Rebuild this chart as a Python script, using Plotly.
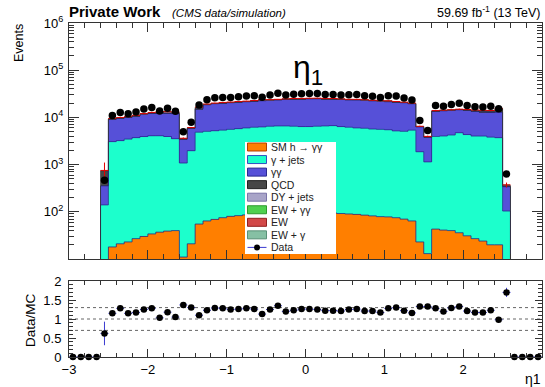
import numpy as np
import plotly.graph_objects as go

# ---------------- data (60 bins of width 0.1 from -3 to 3) ----------------
edges = np.linspace(-3, 3, 61)
centers = (edges[:-1] + edges[1:]) / 2

higgs = [0, 0, 0, 0, 0, 18, 21, 23, 27, 30, 34, 37, 39, 40, 11, 21,
         55, 64, 69, 75, 80, 83, 86, 89, 91, 93, 95, 96, 97, 98,
         98, 97, 96, 94, 92, 90, 88, 85, 82, 79, 78, 75, 70, 64,
         23, 13, 43, 41, 40, 36, 31, 27, 24, 20, 20, 0, 0, 0, 0, 0]
gjets = [0, 0, 0, 0, 140, 3050, 3200, 3450, 3700, 3900, 4050, 4050, 3900, 3500, 1070, 1950,
         4800, 5000, 5150, 5300, 5500, 5700, 5900, 6100, 6200, 6400, 6500, 6500, 6400, 6300,
         6300, 6400, 6500, 6600, 6300, 6100, 5900, 5800, 5600, 5500, 5400, 5100, 5000, 5300,
         1850, 1130, 3900, 4000, 4200, 4700, 4300, 4000, 4000, 3800, 3700, 104, 0, 0, 0, 0]
diphoton = [0, 0, 0, 0, 215, 6030, 6380, 6530, 6970, 7670, 8120, 8110, 8260, 8460, 2380, 3930,
            10150, 13440, 14280, 14630, 14920, 15220, 15510, 15810, 16210, 16510, 16900, 17400, 18000, 18100,
            18400, 18300, 17900, 17800, 17600, 17300, 17500, 17100, 16800, 16400, 16000, 15800, 15400, 14100,
            4430, 2660, 9560, 9760, 9760, 9760, 9870, 9470, 8980, 8980, 9080, 236, 0, 0, 0, 0]
qcd = [0, 0, 0, 0, 385, 200, 150, 200, 150, 200, 300, 900, 800, 700, 80, 100,
       1200, 300, 200, 300, 200, 250, 200, 300, 800, 300, 200, 300, 200, 250,
       200, 300, 250, 200, 300, 250, 200, 300, 200, 250, 600, 300, 200, 250,
       100, 80, 200, 250, 300, 200, 300, 600, 900, 1000, 2500, 20, 0, 0, 0, 0]
dyjets = [0, 0, 0, 0, 3, 38, 40, 42, 41, 43, 44, 45, 42, 40, 14, 16,
          75, 78, 80, 82, 83, 85, 84, 86, 85, 87, 86, 88, 87, 86,
          85, 87, 86, 85, 84, 86, 83, 84, 82, 80, 79, 78, 76, 74,
          17, 15, 44, 45, 46, 47, 46, 45, 44, 43, 42, 3, 0, 0, 0, 0]
ew_gg = [0, 0, 0, 0, 1, 7, 8, 8, 8, 9, 9, 9, 8, 8, 3, 3,
         14, 14, 15, 15, 15, 16, 15, 16, 16, 16, 15, 16, 16, 16,
         16, 16, 15, 16, 16, 15, 15, 15, 15, 14, 14, 14, 14, 13,
         3, 3, 8, 9, 9, 9, 9, 9, 8, 8, 8, 1, 0, 0, 0, 0]
ew = [0, 0, 0, 0, 5, 100, 105, 110, 112, 115, 118, 118, 115, 110, 38, 42,
      200, 210, 215, 220, 222, 225, 225, 228, 228, 230, 230, 232, 232, 230,
      230, 232, 230, 228, 226, 225, 222, 220, 218, 215, 212, 208, 205, 200,
      42, 38, 115, 118, 120, 122, 120, 118, 116, 112, 108, 5, 0, 0, 0, 0]
ew_g = [0, 0, 0, 0, 3, 50, 52, 54, 55, 56, 58, 58, 56, 54, 19, 21,
        100, 104, 106, 108, 110, 111, 112, 113, 114, 115, 115, 116, 116, 115,
        115, 116, 115, 114, 113, 112, 111, 110, 108, 106, 105, 103, 101, 99,
        21, 19, 56, 58, 59, 60, 59, 58, 57, 55, 53, 3, 0, 0, 0, 0]
data = [0, 0, 0, 0, 466, 10940, 12750, 11980, 12940, 15020, 16270, 13710, 15590, 13560, 4960, 7900,
        18290, 23650, 25960, 26530, 26410, 27310, 28320, 28630, 26810, 29660, 32570, 29670, 30900, 31720,
        32040, 31910, 30710, 30650, 29920, 30220, 30400, 28710, 27980, 26530, 28830, 28240, 25770, 23400,
        8620, 5260, 17840, 17140, 18750, 19860, 17830, 16770, 16540, 17260, 15220, 632, 0, 0, 0, 0]
mc_unc_pct = [0, 0, 0, 0, 47, 3, 3, 3, 3, 3, 3, 3, 3, 3, 4, 3,
              2, 2, 2, 2, 2, 2, 2, 2, 2, 2, 2, 2, 2, 2,
              2, 2, 2, 2, 2, 2, 2, 2, 2, 2, 2, 2, 2, 2,
              3, 4, 3, 3, 3, 3, 3, 3, 3, 3, 4, 12, 0, 0, 0, 0]
ratio = [0, 0, 0, 0, 0.62, 1.15, 1.28, 1.15, 1.17, 1.25, 1.28, 1.03, 1.18, 1.05, 1.37, 1.30,
         1.10, 1.23, 1.29, 1.28, 1.25, 1.26, 1.28, 1.26, 1.13, 1.25, 1.35, 1.20, 1.23, 1.26,
         1.26, 1.25, 1.22, 1.22, 1.21, 1.25, 1.26, 1.21, 1.21, 1.17, 1.28, 1.30, 1.22, 1.16,
         1.33, 1.33, 1.28, 1.20, 1.29, 1.33, 1.21, 1.17, 1.17, 1.23, 0.98, 1.70, 0, 0, 0, 0]
ratio_err = [0, 0, 0, 0, 0.31, 0.06, 0.07, 0.06, 0.06, 0.05, 0.05, 0.06, 0.05, 0.05, 0.05, 0.04,
             0.05, 0.04, 0.03, 0.03, 0.03, 0.03, 0.03, 0.03, 0.04, 0.03, 0.03, 0.03, 0.03, 0.03,
             0.03, 0.03, 0.03, 0.03, 0.03, 0.03, 0.03, 0.03, 0.03, 0.03, 0.03, 0.03, 0.03, 0.03,
             0.04, 0.04, 0.04, 0.04, 0.04, 0.04, 0.04, 0.04, 0.05, 0.04, 0.07, 0.12, 0, 0, 0, 0]

labels = ["SM h → γγ", "γ + jets", "γγ", "QCD", "DY + jets", "EW + γγ", "EW", "EW + γ"]
series = [higgs, gjets, diphoton, qcd, dyjets, ew_gg, ew, ew_g]
fills = ["#FF7F00", "#1CFFCC", "#5650D8", "#474747", "#A8A4C8", "#4FD04F", "#D24848", "#86C0A4"]
borders = ["#B04000", "#3050C0", "#2A2A90", "#222222", "#7A74A8", "#2E9A2E", "#902020", "#5A9078"]

FONT = "Liberation Sans, Arial, Helvetica, sans-serif"
L, R, T, B = 69, 542, 23, 357


def px(x):
    return (x - L) / (R - L)


def py(y):
    return (B - y) / (B - T)


fig = go.Figure()

# stacked histogram
for lab, vals, col in zip(labels, series, fills):
    fig.add_trace(go.Bar(x=centers, y=vals, width=0.1, name=lab,
                         marker=dict(color=col, line=dict(width=0)),
                         xaxis="x", yaxis="y", hoverinfo="skip"))

# step outlines of the stack layers
cum = np.cumsum(np.array(series, dtype=float), axis=0)
outline_cols = ["#2A2A80", "#2A2A90", "#20207A", "#333333"]
for k, oc in zip([0, 1, 2, 3], outline_cols):
    top = np.where(cum[k] > 0, cum[k], 0.1)
    fig.add_trace(go.Scatter(x=edges, y=list(top) + [top[-1]], mode="lines",
                             line=dict(color=oc, width=0.8, shape="hv"),
                             xaxis="x", yaxis="y", hoverinfo="skip"))

total = cum[-1]
mc_err = total * np.array(mc_unc_pct) / 100.0
tot_plot = np.where(total > 0, total, np.nan)
fig.add_trace(go.Scatter(x=centers, y=tot_plot, mode="markers",
                         marker=dict(size=1, color="rgba(255,0,0,0)"),
                         error_x=dict(type="constant", value=0.05, color="#E00000", thickness=1, width=0),
                         error_y=dict(type="data", array=mc_err, color="#E00000", thickness=1, width=0),
                         xaxis="x", yaxis="y", hoverinfo="skip"))

data_plot = np.where(np.array(data) > 0, data, np.nan)
fig.add_trace(go.Scatter(x=centers, y=data_plot, mode="markers", name="Data",
                         marker=dict(size=7.5, color="black"),
                         xaxis="x", yaxis="y"))

# ratio panel
fig.add_trace(go.Scatter(x=centers, y=ratio, mode="markers",
                         marker=dict(size=6.5, color="black"),
                         error_x=dict(type="constant", value=0.05, color="#3A3AD0", thickness=1, width=0),
                         error_y=dict(type="data", array=ratio_err, color="#3A3AD0", thickness=1, width=0),
                         cliponaxis=False, xaxis="x2", yaxis="y2"))

axcol = "#333333"
top_domain = [py(259), 1.0]
bot_domain = [0.0, py(281)]

minor_log = [k * 10 ** e for e in range(1, 6) for k in range(2, 10)]

fig.update_layout(
    width=545, height=387,
    margin=dict(l=L, r=545 - R, t=T, b=387 - B, pad=0),
    paper_bgcolor="white", plot_bgcolor="white",
    barmode="stack", bargap=0, showlegend=False,
    font=dict(family=FONT, size=13, color="black"),
    xaxis=dict(domain=[0, 1], anchor="y", range=[-3, 3], showticklabels=False,
               ticks="inside", ticklen=9, tickcolor=axcol, tick0=0, dtick=1,
               minor=dict(ticks="inside", ticklen=5, dtick=0.2, tick0=0, tickcolor=axcol),
               showline=True, linecolor=axcol, linewidth=1, mirror="allticks",
               showgrid=False, zeroline=False),
    yaxis=dict(domain=top_domain, anchor="x", type="log", range=[1, 6],
               tickmode="array", tickvals=[1e2, 1e3, 1e4, 1e5, 1e6],
               ticktext=["10<sup>2</sup>", "10<sup>3</sup>", "10<sup>4</sup>", "10<sup>5</sup>", "10<sup>6</sup>"],
               ticks="inside", ticklen=10, tickcolor=axcol, tickfont=dict(size=13),
               ticklabelstandoff=2,
               minor=dict(ticks="inside", ticklen=5, tickmode="array", tickvals=minor_log, tickcolor=axcol),
               showline=True, linecolor=axcol, linewidth=1, mirror="allticks",
               showgrid=False, zeroline=False),
    xaxis2=dict(domain=[0, 1], anchor="y2", range=[-3, 3],
                tickmode="array", tickvals=[-3, -2, -1, 0, 1, 2, 3],
                ticktext=["−3", "−2", "−1", "0", "1", "2", "3"], tickfont=dict(size=13),
                ticks="inside", ticklen=8, tickcolor=axcol,
                minor=dict(ticks="inside", ticklen=4, dtick=0.2, tick0=0, tickcolor=axcol),
                showline=True, linecolor=axcol, linewidth=1, mirror="allticks",
                showgrid=False, zeroline=False),
    yaxis2=dict(domain=bot_domain, anchor="x2", range=[0, 2],
                tickmode="array", tickvals=[0, 0.5, 1, 1.5, 2], ticktext=["0", "0.5", "1", "1.5", "2"],
                tickfont=dict(size=13), ticklabelstandoff=4,
                ticks="inside", ticklen=7, tickcolor=axcol,
                minor=dict(ticks="inside", ticklen=4, dtick=0.1, tick0=0, tickcolor=axcol),
                showline=True, linecolor=axcol, linewidth=1, mirror="allticks",
                showgrid=False, zeroline=False),
)

shapes = []
for yv in [0.7, 1.0, 1.3]:
    shapes.append(dict(type="line", xref="x2", yref="y2", x0=-3, x1=3, y0=yv, y1=yv,
                       line=dict(color="#666666", width=1, dash="dot"), layer="below"))

# manual legend
shapes.append(dict(type="rect", xref="paper", yref="paper", x0=px(245), x1=px(336),
                   y0=py(254), y1=py(142), fillcolor="white", line=dict(width=0), layer="above"))
annotations = []
row0, dy = 147.0, 12.55
for i, (lab, fc, bc) in enumerate(zip(labels, fills, borders)):
    yc = row0 + i * dy
    shapes.append(dict(type="rect", xref="paper", yref="paper", x0=px(247.5), x1=px(266.5),
                       y0=py(yc + 4), y1=py(yc - 4), fillcolor=fc,
                       line=dict(color=bc, width=1), layer="above"))
    annotations.append(dict(x=px(269), y=py(yc), xref="paper", yref="paper", text=lab,
                            showarrow=False, xanchor="left", yanchor="middle",
                            font=dict(size=10.5, family=FONT, color="#222222")))
yc = row0 + 8 * dy
shapes.append(dict(type="line", xref="paper", yref="paper", x0=px(247.5), x1=px(266.5),
                   y0=py(yc), y1=py(yc), line=dict(color="#3A3AD0", width=1), layer="above"))
shapes.append(dict(type="circle", xref="paper", yref="paper", x0=px(257 - 3), x1=px(257 + 3),
                   y0=py(yc + 3), y1=py(yc - 3), fillcolor="black", line=dict(color="black", width=0),
                   layer="above"))
annotations.append(dict(x=px(269), y=py(yc), xref="paper", yref="paper", text="Data",
                        showarrow=False, xanchor="left", yanchor="middle",
                        font=dict(size=10.5, family=FONT, color="#222222")))

# texts
annotations += [
    dict(x=px(67), y=py(12), xref="paper", yref="paper", text="<b>Private Work</b>",
         showarrow=False, xanchor="left", yanchor="middle", font=dict(size=15, family=FONT)),
    dict(x=px(170), y=py(13), xref="paper", yref="paper", text="<i>(CMS data/simulation)</i>",
         showarrow=False, xanchor="left", yanchor="middle", font=dict(size=11.5, family=FONT)),
    dict(x=px(542), y=py(12), xref="paper", yref="paper", text="59.69 fb<sup>-1</sup> (13 TeV)",
         showarrow=False, xanchor="right", yanchor="middle", font=dict(size=12.5, family=FONT)),
    dict(x=px(19), y=py(43), xref="paper", yref="paper", text="Events", textangle=-90,
         showarrow=False, xanchor="center", yanchor="middle", font=dict(size=12.5, family=FONT)),
    dict(x=px(30), y=py(320), xref="paper", yref="paper", text="Data/MC", textangle=-90,
         showarrow=False, xanchor="center", yanchor="middle", font=dict(size=13.5, family=FONT)),
    dict(x=px(543), y=py(379), xref="paper", yref="paper", text="η1",
         showarrow=False, xanchor="right", yanchor="middle", font=dict(size=14, family=FONT)),
    dict(x=px(308), y=py(69), xref="paper", yref="paper", text="η<sub>1</sub>",
         showarrow=False, xanchor="center", yanchor="middle", font=dict(size=32, family=FONT)),
]

fig.update_layout(shapes=shapes, annotations=annotations)
fig.write_html("out.html", config={"displayModeBar": False},
               post_script="document.body.style.margin='0';")
